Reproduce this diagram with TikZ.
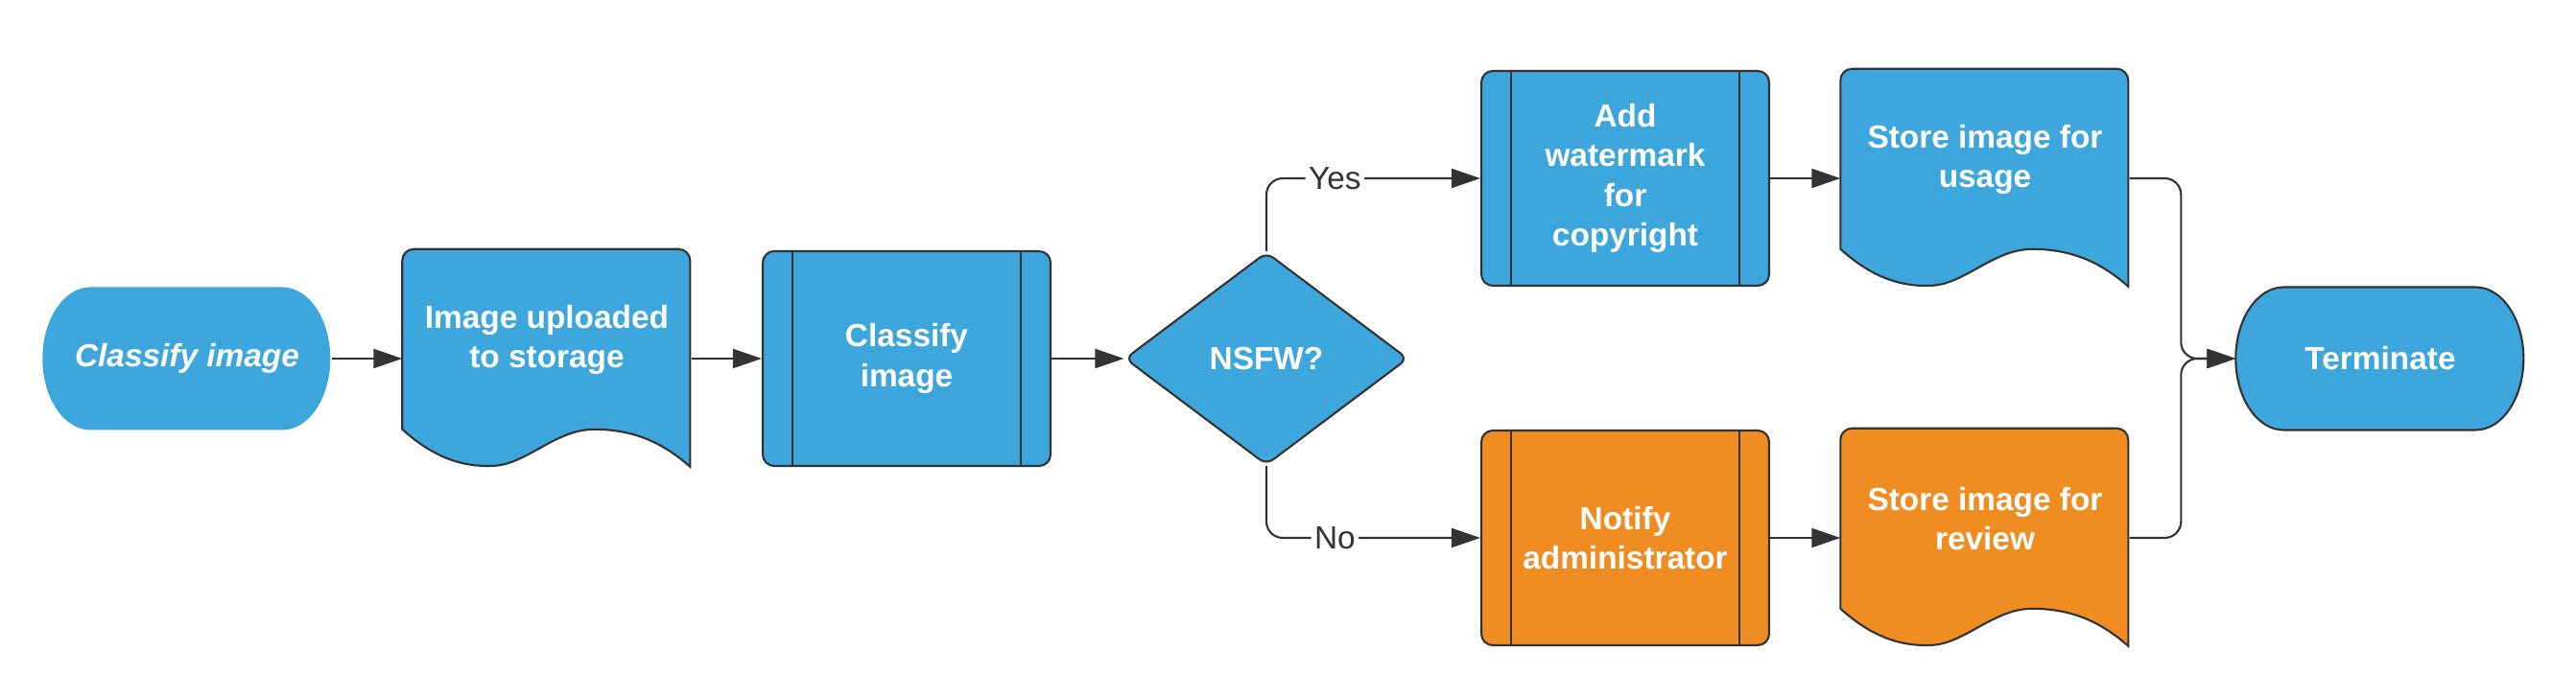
\documentclass[tikz,border=0pt]{standalone}
\usepackage{fontspec}
\setmainfont{Liberation Sans}
\usetikzlibrary{arrows.meta,shapes.geometric,positioning,backgrounds}
\definecolor{lcblue}{HTML}{3DA6DD}
\definecolor{lcorange}{HTML}{EF8D22}
\definecolor{lcline}{HTML}{333333}
\tikzset{
     box text/.style={text=white, font=\bfseries\fontsize{9.5}{11.7}\selectfont, align=center},
      flowedge/.style   = {lcline, line width=0.6pt, -{Triangle[length=0.3cm,width=0.2cm]}},
      termbox/.style = {box text, minimum width=3cm, minimum height=1.49cm, inner sep=0pt},
      docbox/.style = {box text, minimum width=3cm, minimum height=1.88cm, inner sep=0pt},
      procbox/.style = {box text, draw=lcline, line width=0.6pt, rounded corners=0.12cm,
          minimum width=3cm, minimum height=2.24cm, inner sep=0pt,
          path picture={\draw[lcline, line width=0.6pt]
              ([xshift=0.31cm]path picture bounding box.north west) -- ([xshift=0.31cm]path picture bounding box.south west)
              ([xshift=-0.31cm]path picture bounding box.north east) -- ([xshift=-0.31cm]path picture bounding box.south east);}},
      decision/.style = {box text, diamond, draw=lcline, fill=lcblue, line width=0.6pt, rounded corners=2.5pt,
          minimum width=2.95cm, minimum height=2.22cm, inner sep=0pt},
      branch label/.style = {fill=white, text=lcline, font=\fontsize{9.5}{11.7}\selectfont, inner sep=1pt},
    }

\begin{document}
\begin{tikzpicture}[on grid, node distance=3.75cm]
        \useasboundingbox (0,0) rectangle (26.85,7.28);
        \node [termbox] (start) at (1.95,3.54)  {\itshape Classify image};
        \node [docbox] (d1) [right=of start, yshift=0.195cm] {Image uploaded\\to storage};
        \node [procbox, fill=lcblue] (p1) [right=of d1, yshift=-0.195cm] {Classify\\image};
        \node [decision] (dia) [right=of p1] {NSFW?};

        \node [procbox, fill=lcblue] (p2) [above right=1.88cm and 3.74cm of dia] {Add\\watermark\\for\\copyright};
        \node [docbox] (d2) [right=of p2, yshift=0.195cm] {Store image for\\usage};

        \node [procbox, fill=lcorange] (p3) [below right=1.87cm and 3.74cm of dia] {Notify\\administrator};
        \node [docbox] (d3) [right=of p3, yshift=0.195cm] {Store image for\\review};

        \node [termbox] (term) [right=11.61cm of dia] {Terminate};

        % outlines of the terminals and documents
        \begin{scope}[on background layer]
        \foreach \t/\d in {start/none, term/lcline}
            \filldraw[fill=lcblue, draw=\d, line width=0.6pt, shift={(\t.west)}]
                (0.5,0.745) -- (2.5,0.745) arc[start angle=90, end angle=-90, x radius=0.5, y radius=0.745]
                -- (0.5,-0.745) arc[start angle=270, end angle=90, x radius=0.5, y radius=0.745] -- cycle;
        \foreach \d/\c in {d1/lcblue, d2/lcblue, d3/lcorange}
            \filldraw[fill=\c, draw=lcline, line width=0.6pt, shift={(\d.north west)}]
                (3,-2.27) -- (3,-0.12) arc[start angle=0, end angle=90, radius=0.12]
                -- (0.12,0) arc[start angle=90, end angle=180, radius=0.12] -- (0,-1.88)
                .. controls (0.3,-2.15) and (0.6,-2.28) .. (0.96,-2.26)
                .. controls (1.3,-2.24) and (1.6,-1.88) .. (2.0,-1.88)
                .. controls (2.45,-1.88) and (2.75,-2.05) .. (3,-2.27) -- cycle;
        \end{scope}

        \draw [flowedge] (start.east) -- (start.east -| d1.west);
        \draw [flowedge] (p1.west -| d1.east) -- (p1.west);
        \draw [flowedge] (p1.east) -- (dia.west);
        \draw [flowedge, rounded corners=0.17cm] (dia.north) |- node [branch label, pos=0.66] {Yes} (p2.west);
        \draw [flowedge, rounded corners=0.17cm] (dia.south) |- node [branch label, pos=0.66] {No} (p3.west);
        \draw [flowedge] (p2.east) -- (p2.east -| d2.west);
        \draw [flowedge] (p3.east) -- (p3.east -| d3.west);
        \draw [flowedge, rounded corners=0.17cm] (p2.east -| d2.east) -| ([xshift=-0.57cm]term.west) -- (term.west);
        \draw [flowedge, rounded corners=0.17cm] (p3.east -| d3.east) -| ([xshift=-0.57cm]term.west) -- (term.west);
\end{tikzpicture}
\end{document}
